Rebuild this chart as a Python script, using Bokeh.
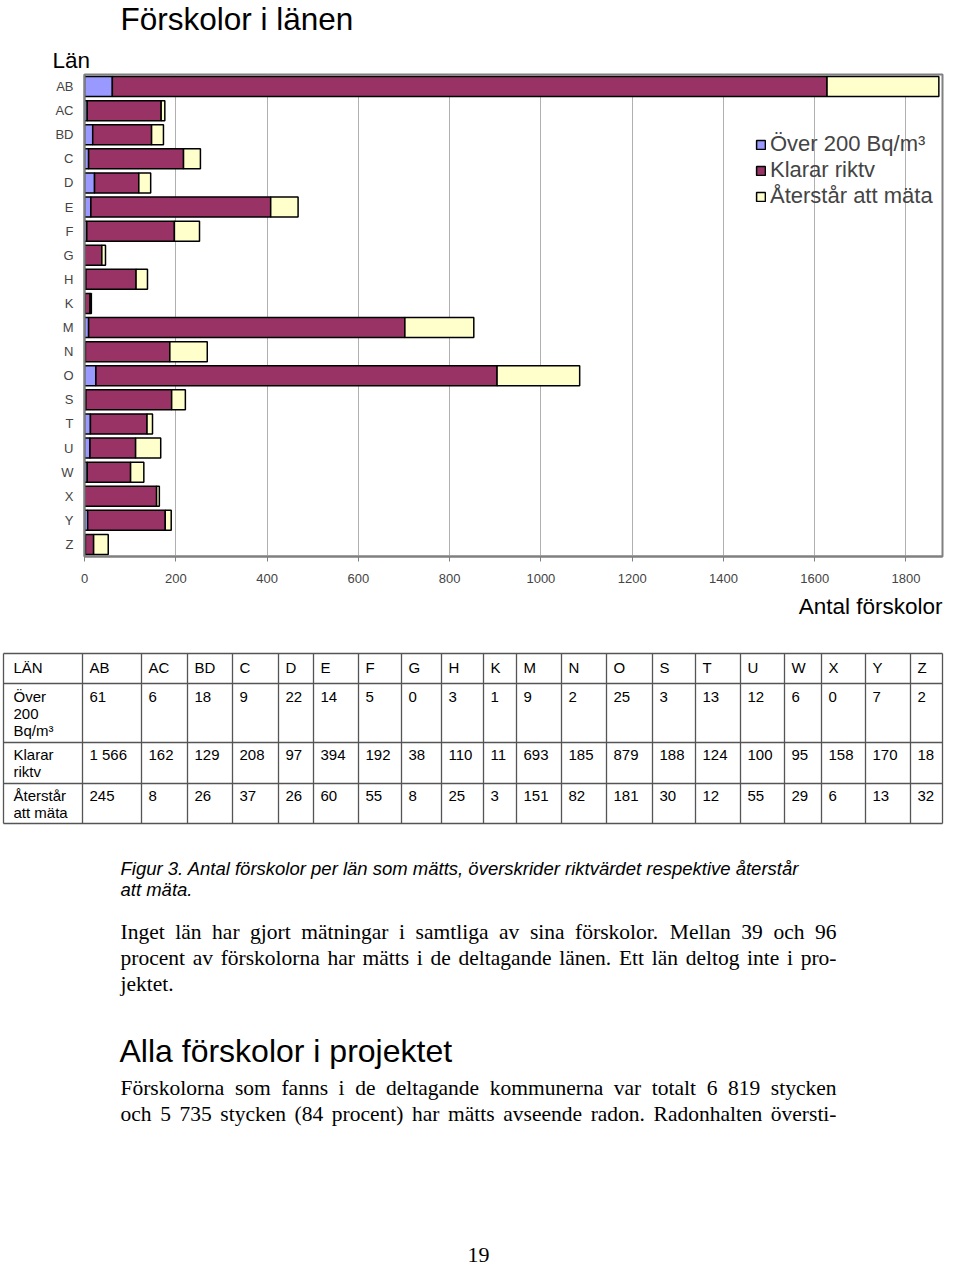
from bokeh.plotting import figure
from bokeh.models import ColumnDataSource, FactorRange, Range1d, FixedTicker, Legend
from bokeh.layouts import column
from bokeh.embed import file_html
from bokeh.resources import INLINE
from bokeh.core.properties import value

# ---------------- data ----------------
lan = ["AB", "AC", "BD", "C", "D", "E", "F", "G", "H", "K",
       "M", "N", "O", "S", "T", "U", "W", "X", "Y", "Z"]
over = [61, 6, 18, 9, 22, 14, 5, 0, 3, 1, 9, 2, 25, 3, 13, 12, 6, 0, 7, 2]
klarar = [1566, 162, 129, 208, 97, 394, 192, 38, 110, 11,
          693, 185, 879, 188, 124, 100, 95, 158, 170, 18]
aterstar = [245, 8, 26, 37, 26, 60, 55, 8, 25, 3,
            151, 82, 181, 30, 12, 55, 29, 6, 13, 32]
series_keys = ["over", "klarar", "aterstar"]
series_names = ["Över 200 Bq/m³", "Klarar riktv", "Återstår att mäta"]
series_colors = ["#9999FF", "#993366", "#FFFFCC"]
x_ticks = [0, 200, 400, 600, 800, 1000, 1200, 1400, 1600, 1800]
table_row_labels = [["Över", "200", "Bq/m³"], ["Klarar", "riktv"], ["Återstår", "att mäta"]]

W = 944
SANS = "Liberation Sans"
SERIF = "Liberation Serif"


def page_fig(y_top, height):
    f = figure(width=W, height=height, x_range=Range1d(0, W),
               y_range=Range1d(y_top + height, y_top),
               x_axis_type=None, y_axis_type=None, frame_align=False,
               output_backend="svg", toolbar_location=None, min_border=0)
    f.grid.visible = False
    f.outline_line_color = None
    return f


def txt(f, xs, ys, texts, size, font=SANS, style="normal", align="left", color="black"):
    f.text(x=xs, y=ys, text=texts, text_font=value(font),
           text_font_size=value(f"{size}px"), text_font_style=value(style),
           text_align=value(align), text_baseline=value("middle"),
           text_color=color)


# Times New Roman advance widths (Liberation Serif is metric compatible)
TNR = {' ': 250, '(': 333, ')': 333, '-': 333, '.': 250, ',': 250}
for d in "0123456789":
    TNR[d] = 500
TNR.update(dict(a=444, b=500, c=444, d=500, e=444, f=333, g=500, h=500, i=278, j=278,
                k=500, l=278, m=778, n=500, o=500, p=500, q=500, r=333, s=389, t=278,
                u=500, v=500, w=722, x=500, y=500, z=444))
TNR.update({'ä': 444, 'ö': 500, 'å': 444, 'I': 333, 'M': 889, 'E': 611, 'F': 556, 'R': 667})


def tw(s, size):
    return sum(TNR.get(c, 500) for c in s) * size / 1000.0


def justified(f, line, x0, x1, y, size, justify=True):
    words = line.split(" ")
    if not justify or len(words) < 2:
        txt(f, [x0], [y], [line], size, font=SERIF)
        return
    widths = [tw(w, size) for w in words]
    gap = (x1 - x0 - sum(widths)) / (len(words) - 1)
    xs, cur = [], x0
    for wd in widths:
        xs.append(cur)
        cur += wd + gap
    txt(f, xs, [y] * len(words), words, size, font=SERIF)


# ---------------- top: title ----------------
figA = page_fig(0, 72)
txt(figA, [120], [18], ["Förskolor i länen"], 31.5)
txt(figA, [52], [60], ["Län"], 22.5)

# ---------------- chart ----------------
src = ColumnDataSource(dict(lan=lan, over=over, klarar=klarar, aterstar=aterstar))
p = figure(width=W, height=518, y_range=FactorRange(factors=lan[::-1]),
           x_range=Range1d(0, 1880), output_backend="svg", toolbar_location=None,
           frame_align=False,
           min_border_left=84, min_border_right=2, min_border_top=2, min_border_bottom=34)
rs = p.hbar_stack(series_keys, y="lan", height=0.83, fill_color=series_colors,
                  line_color="black", line_width=1.5, source=src)

legend = Legend(items=[(n, [r]) for n, r in zip(series_names, rs)], location=(671, 347))
legend.label_text_font = SANS
legend.label_text_font_size = "22px"
legend.glyph_width = 11
legend.glyph_height = 11
legend.label_standoff = 4
legend.spacing = 0
legend.padding = 0
legend.margin = 0
legend.border_line_color = None
legend.background_fill_alpha = 0
p.add_layout(legend)

p.xaxis.ticker = FixedTicker(ticks=x_ticks)
p.xaxis.major_label_text_font = SANS
p.xaxis.major_label_text_font_size = "13px"
p.xaxis.major_tick_out = 5
p.xaxis.major_tick_in = 0
p.xaxis.minor_tick_line_color = None
p.xaxis.axis_line_color = "#808080"
p.xaxis.axis_line_width = 2
p.xaxis.major_tick_line_color = "#808080"
p.xaxis.major_label_standoff = 12

p.yaxis.major_label_text_font = SANS
p.yaxis.major_label_text_font_size = "13px"
p.yaxis.major_tick_line_color = None
p.yaxis.major_tick_out = 0
p.yaxis.major_tick_in = 0
p.yaxis.major_label_standoff = 11
p.yaxis.axis_line_color = "#808080"
p.yaxis.axis_line_width = 2

p.ygrid.grid_line_color = None
p.xgrid.grid_line_color = "#B0B0B0"
p.outline_line_color = "#808080"
p.outline_line_width = 2

# ---------------- table + text ----------------
figC = page_fig(590, 676)
txt(figC, [942], [606], ["Antal förskolor"], 22.5, align="right")

col_x = [3, 82, 141, 187, 232, 278, 313, 358, 401, 441, 483, 516,
         561, 606, 652, 695, 740, 784, 821, 865, 910, 942]
row_y = [653, 683, 742, 783, 823]
figC.segment(x0=col_x, y0=[row_y[0]] * len(col_x), x1=col_x, y1=[row_y[-1]] * len(col_x),
             line_color="#555555", line_width=1.3)
figC.segment(x0=[col_x[0]] * len(row_y), y0=row_y, x1=[col_x[-1]] * len(row_y), y1=row_y,
             line_color="#555555", line_width=1.3)

cell_x = [x + 7 for x in col_x[1:-1]]
txt(figC, [13], [667], ["LÄN"], 15)
txt(figC, cell_x, [667] * len(lan), lan, 15)

row_text_y = [696, 754, 795]
for rowvals, ry, labels in zip([over, klarar, aterstar], row_text_y, table_row_labels):
    txt(figC, cell_x, [ry] * len(rowvals), [f"{v:,}".replace(",", " ") for v in rowvals], 15)
    txt(figC, [13] * len(labels), [ry + 17 * i for i in range(len(labels))], labels, 15)

txt(figC, [120, 120], [868, 889],
    ["Figur 3. Antal förskolor per län som mätts, överskrider riktvärdet respektive återstår",
     "att mäta."], 18.5, style="italic")

para1 = ["Inget län har gjort mätningar i samtliga av sina förskolor. Mellan 39 och 96",
         "procent av förskolorna har mätts i de deltagande länen. Ett län deltog inte i pro-",
         "jektet."]
for i, line in enumerate(para1):
    justified(figC, line, 120, 836, 931 + 26 * i, 21.5, justify=(i < 2))

txt(figC, [119], [1050], ["Alla förskolor i projektet"], 32)

para2 = ["Förskolorna som fanns i de deltagande kommunerna var totalt 6 819 stycken",
         "och 5 735 stycken (84 procent) har mätts avseende radon. Radonhalten översti-"]
for i, line in enumerate(para2):
    justified(figC, line, 120, 836, 1087 + 26 * i, 21.5)

txt(figC, [478], [1254], ["19"], 22, font=SERIF, align="center")

layout = column(figA, p, figC, spacing=0)
open("out.html", "w").write(file_html(layout, INLINE))
